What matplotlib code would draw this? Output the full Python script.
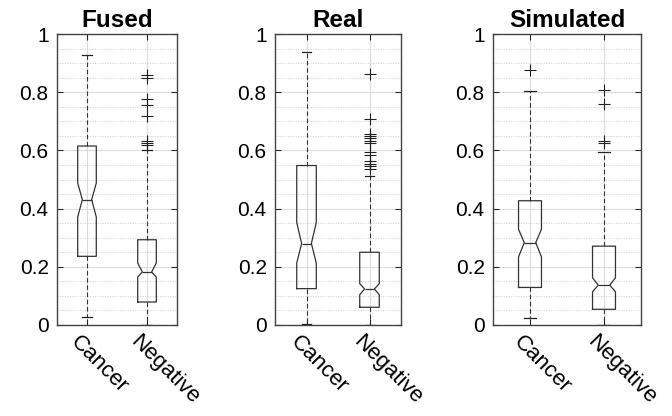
import matplotlib
matplotlib.use("Agg")
import matplotlib.pyplot as plt
from matplotlib.ticker import MultipleLocator

plt.rcParams['font.family'] = ['Liberation Sans', 'DejaVu Sans']

groups = ["Cancer", "Negative"]
titles = ["Fused", "Real", "Simulated"]

fused_q1 = [0.236, 0.079]
fused_med = [0.431, 0.182]
fused_q3 = [0.615, 0.293]
fused_whislo = [0.027, 0.0]
fused_whishi = [0.928, 0.600]
fused_cilo = [0.371, 0.165]
fused_cihi = [0.488, 0.213]
fused_fliers = [[], [0.859, 0.848, 0.776, 0.755, 0.719, 0.633, 0.626, 0.619]]

real_q1 = [0.125, 0.061]
real_med = [0.280, 0.124]
real_q3 = [0.548, 0.250]
real_whislo = [0.004, 0.0]
real_whishi = [0.937, 0.511]
real_cilo = [0.213, 0.104]
real_cihi = [0.352, 0.142]
real_fliers = [[], [0.863, 0.707, 0.656, 0.649, 0.642, 0.634, 0.626,
                    0.594, 0.585, 0.565, 0.554, 0.546, 0.536]]

sim_q1 = [0.129, 0.054]
sim_med = [0.283, 0.137]
sim_q3 = [0.427, 0.271]
sim_whislo = [0.024, 0.0]
sim_whishi = [0.804, 0.594]
sim_cilo = [0.234, 0.114]
sim_cihi = [0.329, 0.162]
sim_fliers = [[0.878], [0.807, 0.761, 0.631, 0.626]]

yticks = [0, 0.2, 0.4, 0.6, 0.8, 1]
ytick_labels = ["0", "0.2", "0.4", "0.6", "0.8", "1"]

datasets = [
    (fused_q1, fused_med, fused_q3, fused_whislo, fused_whishi, fused_cilo, fused_cihi, fused_fliers),
    (real_q1, real_med, real_q3, real_whislo, real_whishi, real_cilo, real_cihi, real_fliers),
    (sim_q1, sim_med, sim_q3, sim_whislo, sim_whishi, sim_cilo, sim_cihi, sim_fliers),
]

W, H = 672, 416
fig = plt.figure(figsize=(W / 100, H / 100), dpi=100)
extents = [(57, 177), (275, 401), (493, 641)]
top_px, bot_px = 34, 325

edge = '#262626'
positions = [1, 2]
for (l, r), title, ds in zip(extents, titles, datasets):
    ax = fig.add_axes([l / W, (H - bot_px) / H, (r - l) / W, (bot_px - top_px) / H])
    q1, med, q3, wlo, whi, cilo, cihi, fl = ds
    stats = []
    for i in range(len(groups)):
        stats.append(dict(med=med[i], q1=q1[i], q3=q3[i], whislo=wlo[i], whishi=whi[i],
                          cilo=cilo[i], cihi=cihi[i], fliers=fl[i], label=groups[i]))
    ax.bxp(stats, positions=positions, widths=0.31, shownotches=True,
           boxprops=dict(color='#333333', linewidth=0.9),
           medianprops=dict(color='#333333', linewidth=0.9),
           whiskerprops=dict(color='#333333', linewidth=0.8, linestyle=(0, (4, 2.5))),
           capprops=dict(color='#222222', linewidth=0.9),
           flierprops=dict(marker='+', markersize=8, markeredgecolor='#222222',
                           markeredgewidth=0.8, linestyle='none'),
           zorder=3)
    ax.set_xlim(0.5, 2.5)
    ax.set_ylim(0, 1)
    ax.set_yticks(yticks)
    ax.set_yticklabels(ytick_labels, fontsize=15)
    ax.yaxis.set_minor_locator(MultipleLocator(0.05))
    ax.set_xticks(positions)
    ax.set_xticklabels([])
    for p, g in zip(positions, groups):
        ax.annotate(g, xy=(p, 0), xycoords=('data', 'axes fraction'),
                    xytext=(-13, -14), textcoords='offset pixels',
                    fontsize=16, rotation=-45, ha='left', va='center',
                    rotation_mode='anchor', annotation_clip=False)
    ax.grid(True, which='major', color='#dcdcdc', linewidth=0.8, linestyle='-', zorder=0)
    ax.grid(True, which='minor', axis='y', color='#d0d0d0', linewidth=0.6,
            linestyle=(0, (1.5, 1.5)), zorder=0)
    ax.set_axisbelow(True)
    ax.tick_params(axis='both', which='major', direction='in', length=4, width=0.8,
                   color=edge, top=True, right=True, pad=6)
    ax.tick_params(axis='y', which='minor', length=0)
    for s in ax.spines.values():
        s.set_color('#444444')
        s.set_linewidth(1.0)
    ax.set_title(title, fontsize=17.5, fontweight='bold', pad=5)

fig.savefig("out.png", dpi=100)
